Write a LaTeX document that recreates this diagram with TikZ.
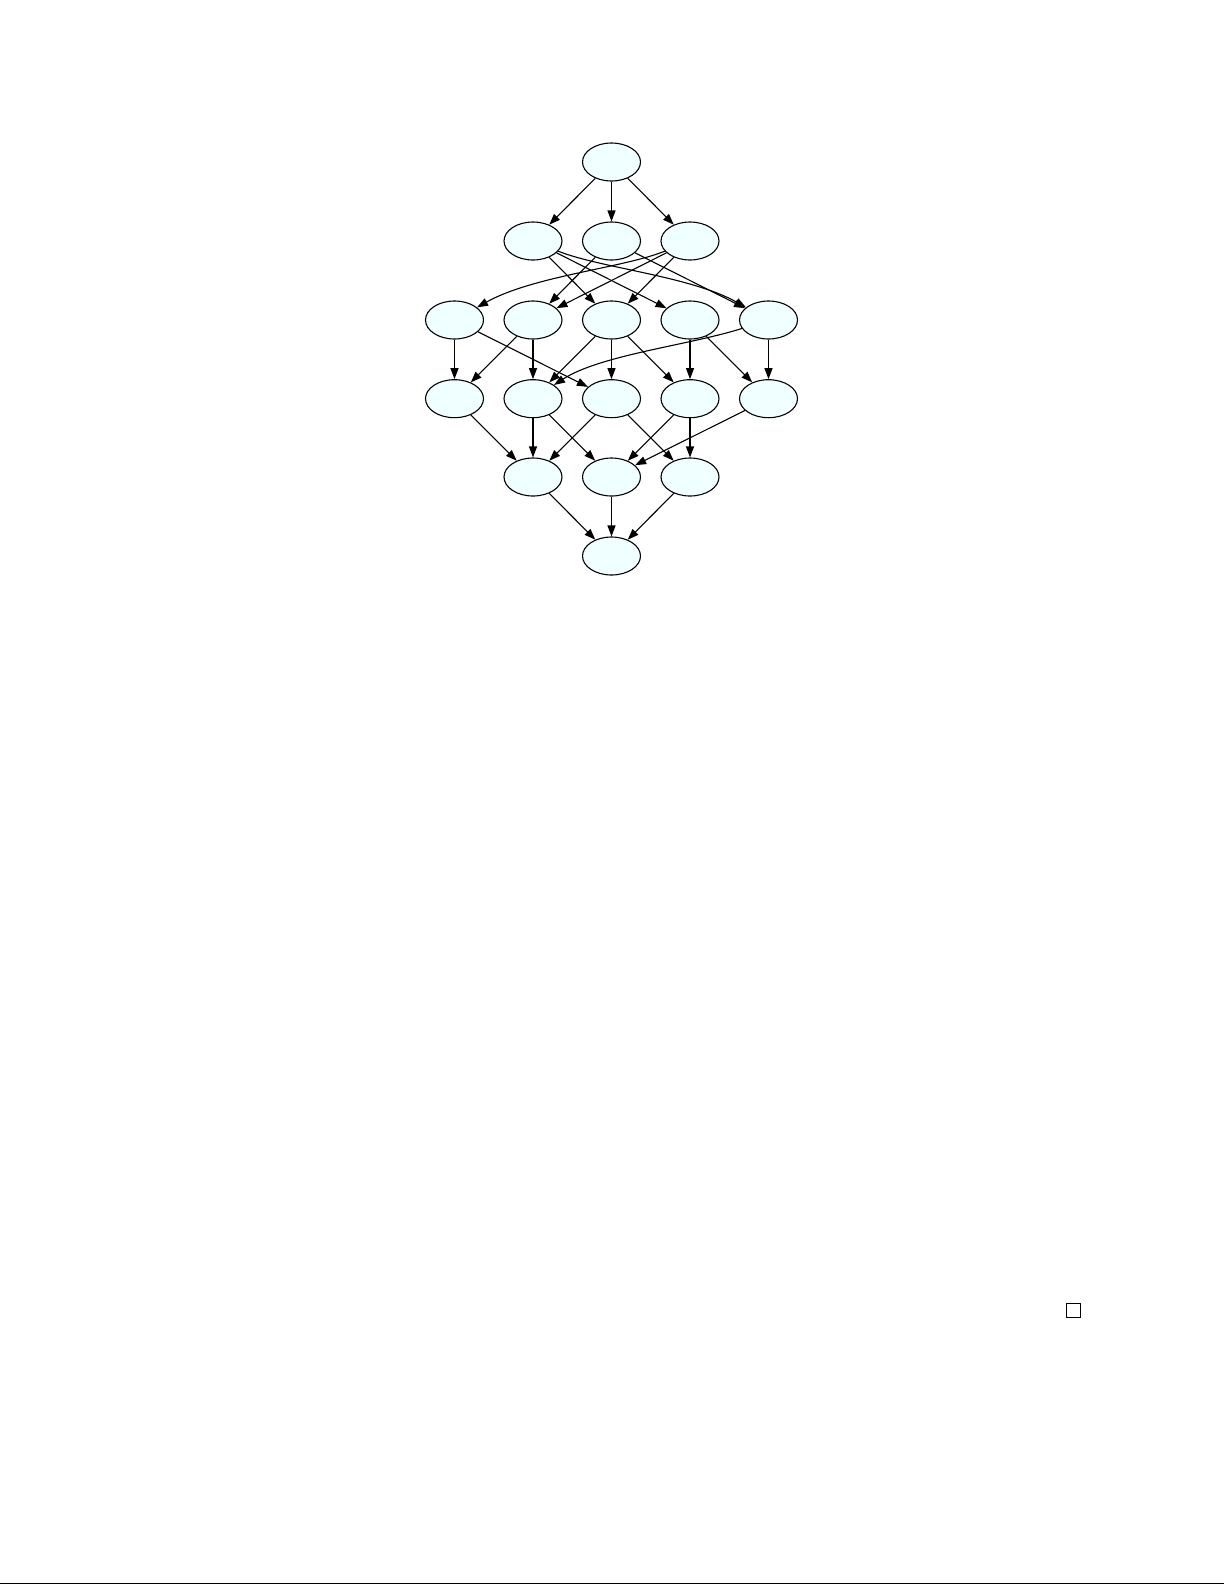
\documentclass[tikz,border=0pt]{standalone}
\usetikzlibrary{shapes.geometric,arrows.meta}
\definecolor{nodefill}{HTML}{F0FFFF}
\begin{document}
\begin{tikzpicture}[x=1pt,y=-1pt,
  nd/.style={ellipse, draw=black, fill=nodefill, line width=1.1pt,
    minimum width=58pt, minimum height=38pt, inner sep=0pt},
  arr/.style={line width=1.1pt, -{Triangle[length=11pt,width=8pt]}},
  qedbox/.style={draw=black, line width=1pt, minimum size=14pt, inner sep=0pt}]
\useasboundingbox (0,0) rectangle (1225,1585);
% nodes
\node[nd] (A)  at (611.5,162) {};
\node[nd] (B1) at (533,241) {};
\node[nd] (B2) at (611.5,241) {};
\node[nd] (B3) at (690,241) {};
\node[nd] (C1) at (454.5,320) {};
\node[nd] (C2) at (533,320) {};
\node[nd] (C3) at (611.5,320) {};
\node[nd] (C4) at (690,320) {};
\node[nd] (C5) at (768.5,320) {};
\node[nd] (D1) at (454.5,398.7) {};
\node[nd] (D2) at (533,398.7) {};
\node[nd] (D3) at (611.5,398.7) {};
\node[nd] (D4) at (690,398.7) {};
\node[nd] (D5) at (768.5,398.7) {};
\node[nd] (E1) at (533,477) {};
\node[nd] (E2) at (611.5,477) {};
\node[nd] (E3) at (690,477) {};
\node[nd] (F)  at (611.5,556) {};
% row 0 -> 1
\draw[arr] (A) -- (B1);
\draw[arr] (A) -- (B2);
\draw[arr] (A) -- (B3);
% row 1 -> 2
\draw[arr] (B1) -- (C3);
\draw[arr] (B1) -- (C4);
\draw[arr] (B1) .. controls (600,268) and (690,276) .. (C5);
\draw[arr] (B2) -- (C2);
\draw[arr] (B2) -- (C5);
\draw[arr] (B3) .. controls (623,268) and (533,276) .. (C1);
\draw[arr] (B3) -- (C2);
\draw[arr] (B3) -- (C3);
% row 2 -> 3
\draw[arr] (C1) -- (D1);
\draw[arr] (C1) -- (D3);
\draw[arr] (C2) -- (D1);
\draw[arr] (C2) -- (D2);
\draw[arr] (C3) -- (D2);
\draw[arr] (C3) -- (D3);
\draw[arr] (C3) -- (D4);
\draw[arr] (C4) -- (D4);
\draw[arr] (C4) -- (D5);
\draw[arr] (C5) .. controls (690,345) and (600,355) .. (D2);
\draw[arr] (C5) -- (D5);
% row 3 -> 4
\draw[arr] (D1) -- (E1);
\draw[arr] (D2) -- (E1);
\draw[arr] (D2) -- (E2);
\draw[arr] (D3) -- (E1);
\draw[arr] (D3) -- (E3);
\draw[arr] (D4) -- (E2);
\draw[arr] (D4) -- (E3);
\draw[arr] (D5) -- (E2);
% row 4 -> 5
\draw[arr] (E1) -- (F);
\draw[arr] (E2) -- (F);
\draw[arr] (E3) -- (F);
% end-of-proof box and bottom rule
\node[qedbox] (qed) at (1073.5,1310) {};
\coordinate (ruleL) at (0,1583.6);
\coordinate (ruleR) at (1224,1583.6);
\draw[line width=1.2pt] (ruleL) -- (ruleR);
\end{tikzpicture}
\end{document}
